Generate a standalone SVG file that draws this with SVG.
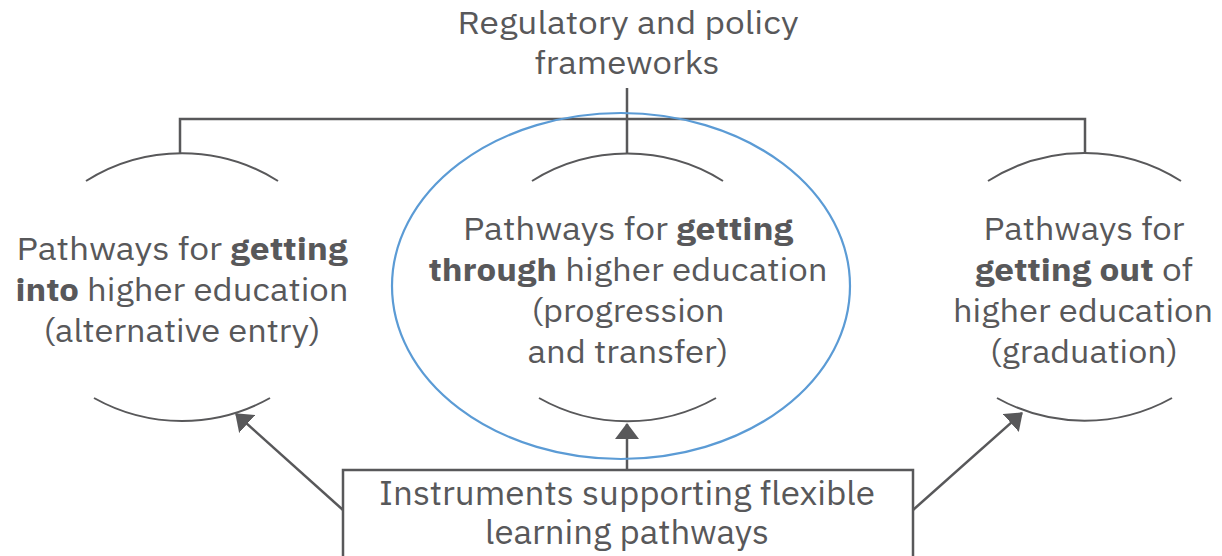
<svg xmlns="http://www.w3.org/2000/svg" width="1222" height="556" viewBox="0 0 1222 556">
<style>
.t{font-family:"IBM Plex Sans","Liberation Sans","Open Sans",sans-serif;font-size:31px;fill:#58585a;text-anchor:middle}
.b{font-weight:bold}
.c{font-size:33px}
.arc{fill:none;stroke:#58585a;stroke-width:2}
.ln{fill:none;stroke:#58585a;stroke-width:2.5}
</style>
<defs>
<marker id="ah" viewBox="0 0 16 24" refX="15" refY="12" markerWidth="16" markerHeight="24" markerUnits="userSpaceOnUse" orient="auto">
<path d="M0,0 L16,12 L0,24 Z" fill="#58585a"/>
</marker>
</defs>
<rect width="1222" height="556" fill="#ffffff"/>
<g id="regulatory">
<text class="t" x="628" y="34" textLength="341" lengthAdjust="spacingAndGlyphs">Regulatory and policy</text>
<text class="t" x="627" y="74" textLength="185" lengthAdjust="spacingAndGlyphs">frameworks</text>
</g>
<g id="connectors">
<path class="ln" d="M627,88 V153 M180,153 V119 H1085 V153"/>
<path class="ln" d="M627,470 V424" marker-end="url(#ah)"/>
<path class="ln" d="M343,510 L236,414" marker-end="url(#ah)"/>
<path class="ln" d="M913,510 L1022,413" marker-end="url(#ah)"/>
</g>
<g id="into">
<path class="arc" d="M86,181 A180,180 0 0 1 278,181"/>
<path class="arc" d="M94,398 A180,180 0 0 0 270,398"/>
<text class="t" x="182" y="260" textLength="331" lengthAdjust="spacingAndGlyphs">Pathways for <tspan class="b">getting</tspan></text>
<text class="t" x="182" y="301" textLength="333" lengthAdjust="spacingAndGlyphs"><tspan class="b">into</tspan> higher education</text>
<text class="t" x="182" y="342" textLength="277" lengthAdjust="spacingAndGlyphs">(alternative entry)</text>
</g>
<g id="through">
<ellipse cx="621" cy="286" rx="229" ry="173" fill="none" stroke="#5b9bd5" stroke-width="2.2"/>
<path class="arc" d="M532,181 A180,180 0 0 1 723,181"/>
<path class="arc" d="M539,398 A180,180 0 0 0 716,398"/>
<text class="t" x="628" y="240" textLength="330" lengthAdjust="spacingAndGlyphs">Pathways for <tspan class="b">getting</tspan></text>
<text class="t" x="628" y="281" textLength="399" lengthAdjust="spacingAndGlyphs"><tspan class="b">through</tspan> higher education</text>
<text class="t" x="628" y="322" textLength="193" lengthAdjust="spacingAndGlyphs">(progression</text>
<text class="t" x="628" y="363" textLength="201" lengthAdjust="spacingAndGlyphs">and transfer)</text>
</g>
<g id="out">
<path class="arc" d="M988,181 A180,180 0 0 1 1181,181"/>
<path class="arc" d="M997,398 A180,180 0 0 0 1172,398"/>
<text class="t" x="1084" y="240" textLength="201" lengthAdjust="spacingAndGlyphs">Pathways for</text>
<text class="t" x="1084" y="281" textLength="218" lengthAdjust="spacingAndGlyphs"><tspan class="b">getting out</tspan> of</text>
<text class="t" x="1083" y="322" textLength="260" lengthAdjust="spacingAndGlyphs">higher education</text>
<text class="t" x="1084" y="363" textLength="188" lengthAdjust="spacingAndGlyphs">(graduation)</text>
</g>
<g id="instruments">
<rect x="343" y="470" width="570" height="95" fill="#ffffff" stroke="#58585a" stroke-width="2.5"/>
<text class="t c" x="627" y="505" textLength="496" lengthAdjust="spacingAndGlyphs">Instruments supporting flexible</text>
<text class="t c" x="627" y="544" textLength="284" lengthAdjust="spacingAndGlyphs">learning pathways</text>
</g>
</svg>
